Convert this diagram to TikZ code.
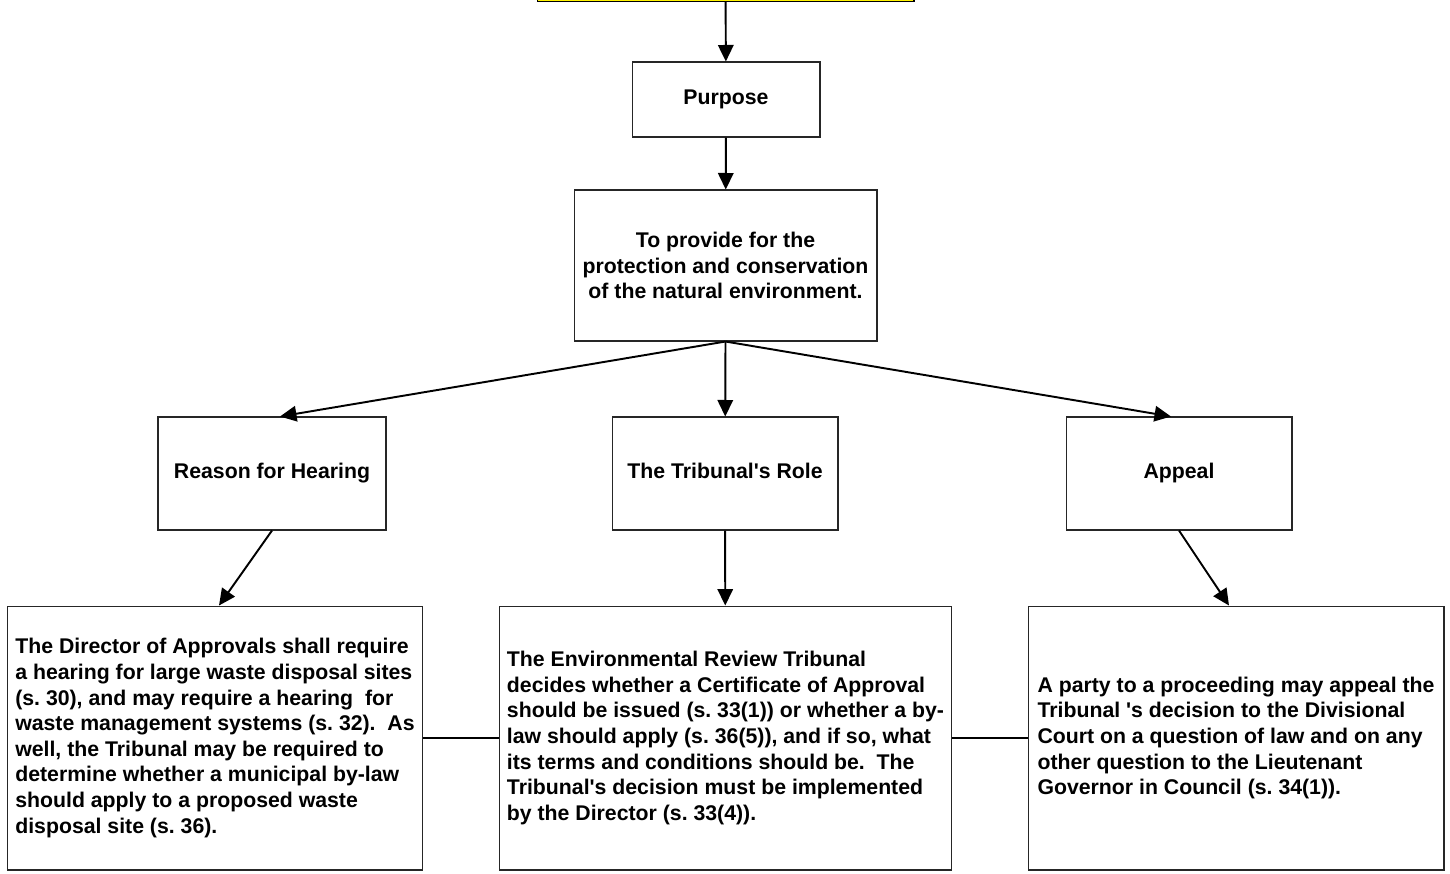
\documentclass[tikz,border=0pt]{standalone}
\usepackage{fontspec}
\setmainfont{Liberation Sans}
\usetikzlibrary{arrows.meta}

\begin{document}
\begin{tikzpicture}[x=0.02cm,y=-0.02cm]

        \useasboundingbox (0,0) rectangle (1450,873);
        \clip (0,0) rectangle (1450,873);

        \begin{scope}[every node/.style={rectangle,draw=black!85,line width=0.6pt,fill=white,
            font=\bfseries\frenchspacing\fontsize{12.1pt}{14.6pt}\selectfont}]
          \node[fill=yellow,draw=black,minimum width=7.54cm,minimum height=1.2cm,anchor=south] (0) at (725.5,2) {};
          \node[text height=0.75em,text depth=0.2em,minimum width=3.76cm,minimum height=1.5cm] (1) at (726,99.5) {Purpose};
          \node[align=center,minimum width=6.06cm,minimum height=3.02cm] (2) at (725.5,265.5)
            {To provide for the\\protection and conservation\\of the natural environment.};
          \node[text height=0.75em,text depth=0.2em,minimum width=4.56cm,minimum height=2.26cm] (3) at (272,473.5) {Reason for Hearing};
          \node[text height=0.75em,text depth=0.2em,minimum width=4.52cm,minimum height=2.26cm] (4) at (725,473.5) {The Tribunal\textquotesingle s Role};
          \node[text height=0.75em,text depth=0.2em,minimum width=4.52cm,minimum height=2.26cm] (5) at (1179,473.5) {Appeal};
          \node[align=left,minimum width=8.32cm,minimum height=5.28cm] (6) at (215,738)
            {The Director of Approvals shall require\\
             a hearing for large waste disposal sites\\
             (s. 30), and may require a hearing\ \ for\\
             waste management systems (s. 32).\ \ As\\
             well, the Tribunal may be required to\\
             determine whether a municipal by-law\\
             should apply to a proposed waste\\
             disposal site (s. 36).};
          \node[align=left,minimum width=9.06cm,minimum height=5.28cm] (7) at (725.5,738)
            {The Environmental Review Tribunal\\
             decides whether a Certificate of Approval\\
             should be issued (s. 33(1)) or whether a by-\\
             law should apply (s. 36(5)), and if so, what\\
             its terms and conditions should be.\ \ The\\
             Tribunal\textquotesingle s decision must be implemented\\
             by the Director (s. 33(4)).};
          \node[align=left,minimum width=8.32cm,minimum height=5.28cm] (8) at (1236,738)
            {A party to a proceeding may appeal the\\
             Tribunal \textquotesingle s decision to the Divisional\\
             Court on a question of law and on any\\
             other question to the Lieutenant\\
             Governor in Council (s. 34(1)).};
        \end{scope}

        \begin{scope}[every edge/.style={draw,line width=1.1pt,-{Triangle[length=0.33cm,width=0.31cm]}}]
          \path (0) edge (1);
          \path (1) edge (2);
          \path (2.south) edge ([xshift=0.16cm]3.north);
          \path (2.south) edge (4);
          \path (2.south) edge ([xshift=-0.16cm]5.north);
          \path (3.south) edge ([xshift=0.08cm]6.north);
          \path (4) edge (7);
          \path (5.south) edge ([xshift=-0.14cm]8.north);
        \end{scope}

        \begin{scope}[every edge/.style={draw,line width=0.6pt}]
          \path (6) edge (7);
          \path (7) edge (8);
        \end{scope}

      \end{tikzpicture}
\end{document}
